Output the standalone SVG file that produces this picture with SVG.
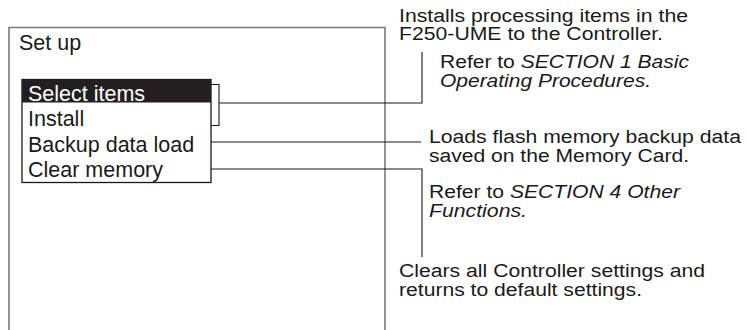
<svg xmlns="http://www.w3.org/2000/svg" width="747" height="330" viewBox="0 0 747 330">
  <style>
    .frame { fill: none; stroke: #7a7a7a; stroke-width: 1.6; }
    .box { fill: #ffffff; stroke: #1a1a1a; stroke-width: 1.3; }
    .hl { fill: #231f20; }
    .conn { fill: none; stroke: #1a1a1a; stroke-width: 1.1; }
    .menu { font-family: "Liberation Sans", Arial, sans-serif; font-size: 21.5px; fill: #1a1a1a; }
    .menu-sel { font-family: "Liberation Sans", Arial, sans-serif; font-size: 21.5px; fill: #ffffff; }
    .note { font-family: "Liberation Sans", Arial, sans-serif; font-size: 18.8px; fill: #1a1a1a; }
    .it { font-style: italic; }
  </style>

  <g id="screen">
    <path class="frame" d="M9,340 V27.5 H385 V340"/>
    <text class="menu" x="19" y="49.5" font-size="21">Set up</text>
  </g>

  <g id="menu">
    <rect class="box" x="22" y="79.5" width="189" height="103"/>
    <rect class="hl" x="22" y="79.5" width="189" height="23"/>
    <text class="menu-sel" x="28" y="100.5">Select items</text>
    <text class="menu" x="28" y="126">Install</text>
    <text class="menu" x="28" y="151.5">Backup data load</text>
    <text class="menu" x="28" y="177">Clear memory</text>
  </g>

  <g id="connectors">
    <path class="conn" d="M211,84.5 H219 V125.5 H211"/>
    <path class="conn" d="M219,103 H422 V52"/>
    <path class="conn" d="M211,142 H421"/>
    <path class="conn" d="M211,169 H422 V257"/>
  </g>

  <g id="note-install">
    <text class="note" x="399" y="22" textLength="289" lengthAdjust="spacingAndGlyphs">Installs processing items in the</text>
    <text class="note" x="399" y="40" textLength="264" lengthAdjust="spacingAndGlyphs">F250-UME to the Controller.</text>
    <text class="note" x="440" y="68" textLength="249" lengthAdjust="spacingAndGlyphs">Refer to <tspan class="it">SECTION 1 Basic</tspan></text>
    <text class="note it" x="440" y="86.5" textLength="211" lengthAdjust="spacingAndGlyphs">Operating Procedures.</text>
  </g>

  <g id="note-backup">
    <text class="note" x="429" y="143" textLength="312" lengthAdjust="spacingAndGlyphs">Loads flash memory backup data</text>
    <text class="note" x="429" y="161.5" textLength="260" lengthAdjust="spacingAndGlyphs">saved on the Memory Card.</text>
    <text class="note" x="429" y="198" textLength="251" lengthAdjust="spacingAndGlyphs">Refer to <tspan class="it">SECTION 4 Other</tspan></text>
    <text class="note it" x="429" y="216.5" textLength="98" lengthAdjust="spacingAndGlyphs">Functions.</text>
  </g>

  <g id="note-clear">
    <text class="note" x="399" y="277" textLength="306" lengthAdjust="spacingAndGlyphs">Clears all Controller settings and</text>
    <text class="note" x="399" y="295.5" textLength="243" lengthAdjust="spacingAndGlyphs">returns to default settings.</text>
  </g>
</svg>
